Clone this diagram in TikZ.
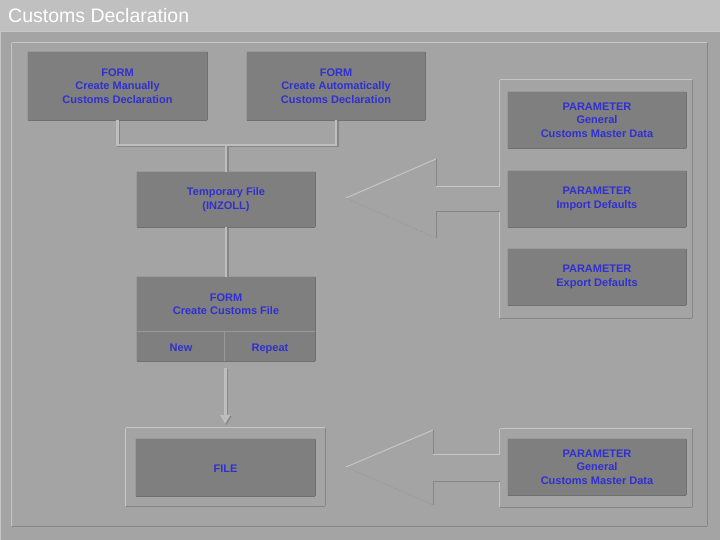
\documentclass[tikz,border=0pt]{standalone}
\usepackage{fontspec}
\setmainfont{Liberation Sans}
\usetikzlibrary{arrows.meta}
\definecolor{bodygray}{HTML}{A4A4A4}
\definecolor{titlegray}{HTML}{C0C0C0}
\definecolor{boxgray}{HTML}{7F7F7F}
\definecolor{labelblue}{HTML}{3030D0}
\definecolor{hilite}{HTML}{C6C6C6}
\definecolor{lowlite}{HTML}{868686}

\begin{document}
\begin{tikzpicture}[x=1pt, y=-1pt,
    bevel/.style 2 args={append after command={
        (\tikzlastnode.south west) edge[draw=#1, line width=1pt] (\tikzlastnode.north west)
        (\tikzlastnode.north west) edge[draw=#1, line width=1pt] (\tikzlastnode.north east)
        (\tikzlastnode.north east) edge[draw=#2, line width=1pt] (\tikzlastnode.south east)
        (\tikzlastnode.south east) edge[draw=#2, line width=1pt] (\tikzlastnode.south west)}},
    panel/.style={inner sep=0pt, bevel={hilite}{lowlite}},
    box/.style={fill=boxgray, inner sep=0pt, text=labelblue, align=center,
        font=\fontsize{11}{13.4}\selectfont\bfseries, bevel={black!40}{black!56}},
    oneline/.style={text height=9pt, text depth=0pt},
    wire/.style={draw=hilite!96!black, line width=2.6pt,
        preaction={draw=lowlite, line width=2.6pt, transform canvas={xshift=1.2pt, yshift=-1.2pt}}}
  ]
  \useasboundingbox (0,0) rectangle (720,540);

  % Window
  \fill[titlegray] (0,0) rectangle (720,31);
  \fill[bodygray] (0,31) rectangle (720,540);
  \draw[hilite, line width=1pt] (0.5,540) -- (0.5,31.5) -- (720,31.5);
  \node[anchor=base west, inner sep=0pt, text=white, font=\fontsize{19.5}{22}\selectfont] (title) at (8,23) {Customs Declaration};

  % Frames
  \node[panel, minimum width=695pt, minimum height=483pt] (main) at (359.5,284.5) {};
  \node[panel, minimum width=192pt, minimum height=238pt] (paramframe) at (596,199) {};
  \node[panel, minimum width=199pt, minimum height=78pt] (fileframe) at (225.5,467) {};
  \node[panel, minimum width=192pt, minimum height=78pt] (masterframe) at (596,468) {};

  % Forms and files
  \node[box, minimum width=179pt, minimum height=68pt] (manual) at (117.5,86) {FORM\\Create Manually\\Customs Declaration};
  \node[box, minimum width=178pt, minimum height=68pt] (auto) at (336,86) {FORM\\Create Automatically\\Customs Declaration};
  \node[box, minimum width=178pt, minimum height=55pt] (temp) at (226,199.5) {Temporary File\\(INZOLL)};
  \node[box, minimum width=178pt, minimum height=55pt] (create) at (226,304.5) {FORM\\Create Customs File};
  \node[box, oneline, minimum width=88pt, minimum height=29pt] (new) at (181,346.5) {New};
  \node[box, oneline, minimum width=90pt, minimum height=29pt] (repeat) at (270,346.5) {Repeat};
  \node[box, oneline, minimum width=179pt, minimum height=57pt] (file) at (225.5,467.5) {FILE};

  % Parameters
  \node[box, minimum width=178pt, minimum height=56pt] (general) at (597,120) {PARAMETER\\General\\Customs Master Data};
  \node[box, minimum width=178pt, minimum height=56pt] (import) at (597,199) {PARAMETER\\Import Defaults};
  \node[box, minimum width=178pt, minimum height=56pt] (export) at (597,277) {PARAMETER\\Export Defaults};
  \node[box, minimum width=178pt, minimum height=56pt] (master) at (597,467) {PARAMETER\\General\\Customs Master Data};

  % Connections
  \coordinate (join) at (226,145);
  \draw[wire] (manual.south) |- (join) -| (auto.south);
  \draw[wire] (join) -- (temp.north);
  \draw[wire] (temp.south) -- (create.north);
  \draw[wire, shorten <=7pt, shorten >=4pt, -{Triangle[length=9pt, width=10pt, fill=bodygray!80!white]}]
    (new.south east) -- (new.south east |- fileframe.north);

  % Big arrows
  \fill[bodygray] (346,198) -- (436,159) -- (436,186.5) -- (501.5,186.5) -- (501.5,211.5) -- (436,211.5) -- (436,238) -- cycle;
  \draw[hilite, line width=1pt] (346,198) -- (436,159);
  \draw[lowlite, line width=1pt] (436,159) -- (436,186.5);
  \draw[hilite, line width=1pt] (436,186.5) -- (paramframe.west |- {(0,186.5)});
  \draw[lowlite, line width=1pt] (paramframe.west |- {(0,211.5)}) -- (436,211.5) -- (436,238);
  \draw[lowlite, densely dotted] (436,238) -- (346,198);

  \fill[bodygray] (346,467) -- (433,430) -- (433,454.5) -- (501.5,454.5) -- (501.5,481.5) -- (433,481.5) -- (433,505) -- cycle;
  \draw[hilite, line width=1pt] (346,467) -- (433,430);
  \draw[lowlite, line width=1pt] (433,430) -- (433,454.5);
  \draw[hilite, line width=1pt] (433,454.5) -- (masterframe.west |- {(0,454.5)});
  \draw[lowlite, line width=1pt] (masterframe.west |- {(0,481.5)}) -- (433,481.5) -- (433,505);
  \draw[lowlite, densely dotted] (433,505) -- (346,467);
\end{tikzpicture}
\end{document}
